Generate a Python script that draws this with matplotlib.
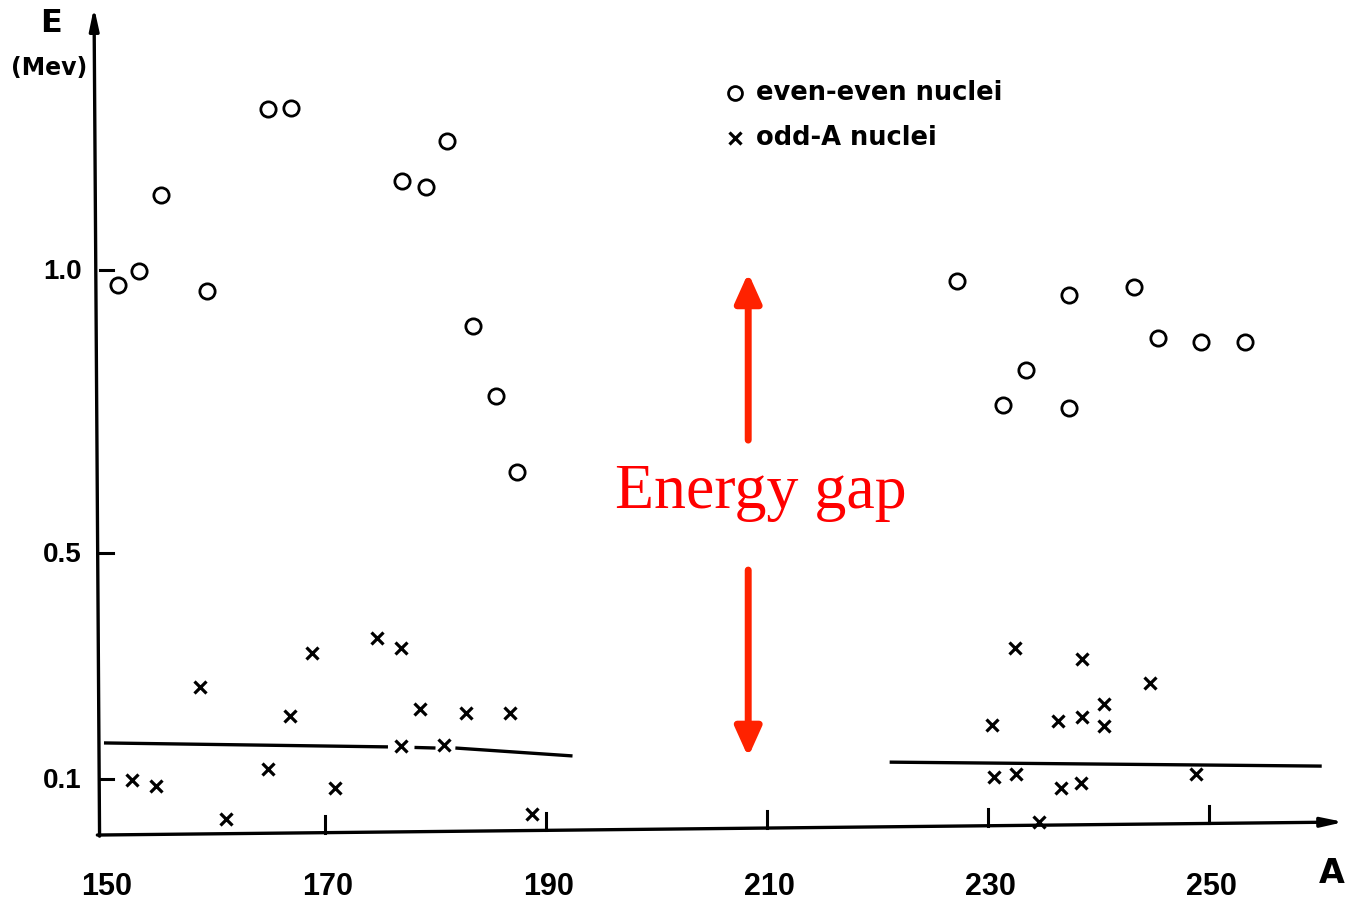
"""
Energy gap in deformed nuclei: lowest intrinsic excitation energy E (MeV)
versus mass number A, even-even vs odd-A nuclei.
"""

import matplotlib.pyplot as plt

# even-even nuclei (circles)
even_A = [151.3, 153.2, 155.2, 159.3, 164.8, 166.9, 177.0, 179.1, 181.0, 183.4, 185.5, 187.4,
          227.2, 231.4, 233.4, 237.3, 237.3, 243.2, 245.4, 249.3, 253.3]
even_E = [0.973, 0.998, 1.133, 0.963, 1.285, 1.287, 1.158, 1.147, 1.228, 0.901, 0.777, 0.642,
          0.981, 0.761, 0.823, 0.956, 0.756, 0.970, 0.880, 0.873, 0.873]

# odd-A nuclei (crosses)
odd_A = [152.5, 154.7, 158.7, 161.0, 164.8, 166.8, 168.8, 170.9, 174.7, 176.9, 178.6, 176.9,
         180.8, 182.8, 186.7, 188.7,
         230.4, 232.4, 230.5, 232.5, 234.6, 236.3, 238.5, 238.5, 240.5, 240.5, 236.6, 238.4,
         244.7, 248.8]
odd_E = [0.097, 0.087, 0.262, 0.028, 0.117, 0.211, 0.322, 0.083, 0.349, 0.331, 0.223, 0.158,
         0.159, 0.216, 0.216, 0.037,
         0.195, 0.331, 0.103, 0.108, 0.023, 0.202, 0.312, 0.209, 0.232, 0.193, 0.083, 0.092,
         0.269, 0.108]

# hand-drawn average lines for odd-A nuclei (segments, left one broken around crosses)
left_line_A = [(150.0, 175.7), (178.1, 180.0), (181.8, 192.4)]
left_line_E = [(0.163, 0.156), (0.155, 0.154), (0.154, 0.140)]
right_line_A = [221.1, 260.2]
right_line_E = [0.129, 0.122]

x_ticks = [170, 190, 210, 230, 250]
x_tick_labels = ["150", "170", "190", "210", "230", "250"]
y_ticks = [1.0, 0.5, 0.1]
y_tick_labels = ["1.0", "0.5", "0.1"]

RED = "#ff2200"
TICK_FONT = dict(family="Liberation Sans", fontweight="bold")

fig = plt.figure(figsize=(13.51, 9.0), dpi=100)
ax = fig.add_axes([0, 0, 1, 1])
ax.set_xlim(140.59, 262.85)
ax.set_ylim(-0.115, 1.478)
ax.axis("off")

# axes drawn by hand, with arrow heads
ax.annotate("", xy=(149.1, 1.465), xytext=(149.6, -0.002),
            arrowprops=dict(arrowstyle="-|>,head_length=1.3,head_width=0.28",
                            color="black", lw=2.4, shrinkA=0, shrinkB=0))
ax.annotate("", xy=(262.2, 0.023), xytext=(149.4, 0.0),
            arrowprops=dict(arrowstyle="-|>,head_length=1.3,head_width=0.28",
                            color="black", lw=2.4, shrinkA=0, shrinkB=0))

for xt in x_ticks:
    base = 0.0 + (xt - 149.4) * 0.023 / (262.2 - 149.4)
    ax.plot([xt, xt], [base, base + 0.030], color="black", lw=2.2)
for yt in y_ticks:
    ax.plot([149.6, 150.8], [yt, yt], color="black", lw=2.2)

for xt, lab in zip([150] + x_ticks, x_tick_labels):
    ax.text(xt + 0.2, -0.092, lab, ha="center", va="center", fontsize=22, **TICK_FONT)
for yt, lab in zip(y_ticks, y_tick_labels):
    ax.text(148.0, yt - 0.004, lab, ha="right", va="center", fontsize=20, **TICK_FONT)

ax.text(145.2, 1.437, "E", ha="center", va="center", fontsize=23, fontweight="bold")
ax.text(145.0, 1.358, "(Mev)", ha="center", va="center", fontsize=17, fontweight="bold")
ax.text(261.1, -0.068, "A", ha="center", va="center", fontsize=24, fontweight="bold")

# data
ax.plot(even_A, even_E, "o", ls="none", mfc="none", mec="black", ms=11, mew=2.0)
ax.plot(odd_A, odd_E, "x", ls="none", color="black", ms=8.5, mew=2.3)

for (a0, a1), (e0, e1) in zip(left_line_A, left_line_E):
    ax.plot([a0, a1], [e0, e1], color="black", lw=2.4, solid_capstyle="butt")
ax.plot(right_line_A, right_line_E, color="black", lw=2.4, solid_capstyle="butt")

# legend drawn as plain text with markers
ax.plot([207.1], [1.313], "o", mfc="none", mec="black", ms=10, mew=2.0)
ax.plot([207.1], [1.234], "x", color="black", ms=8.5, mew=2.3)
ax.text(209.0, 1.313, "even-even nuclei", ha="left", va="center", fontsize=18.5,
        fontweight="bold")
ax.text(209.0, 1.234, "odd-A nuclei", ha="left", va="center", fontsize=18.5,
        fontweight="bold")

# energy gap arrows and label
ax.annotate("", xy=(208.3, 0.995), xytext=(208.3, 0.699),
            arrowprops=dict(arrowstyle="-|>,head_length=0.8,head_width=0.36",
                            color=RED, lw=5, mutation_scale=22, shrinkA=0, shrinkB=0))
ax.annotate("", xy=(208.3, 0.138), xytext=(208.3, 0.469),
            arrowprops=dict(arrowstyle="-|>,head_length=0.8,head_width=0.36",
                            color=RED, lw=5, mutation_scale=22, shrinkA=0, shrinkB=0))
ax.text(209.4, 0.606, "Energy gap", ha="center", va="center", color="red",
        fontsize=46, family="Liberation Serif")

fig.savefig("out.png", dpi=100)
